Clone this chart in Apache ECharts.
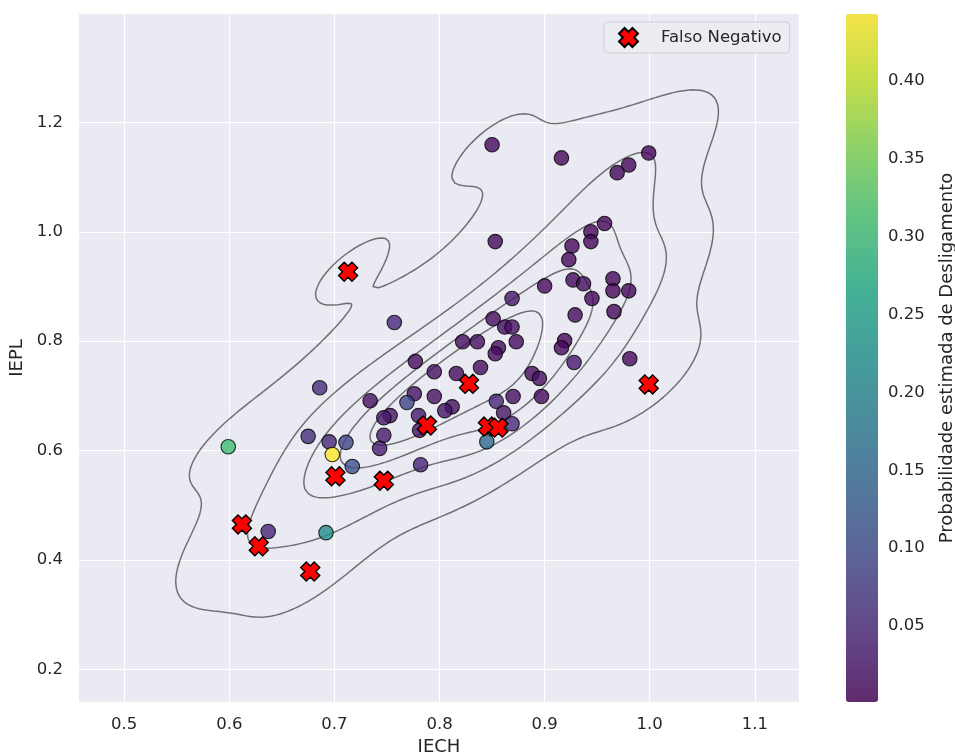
<!DOCTYPE html>
<html><head><meta charset="utf-8">
<script src="https://cdn.jsdelivr.net/npm/echarts@6/dist/echarts.min.js"></script>
<style>html,body{margin:0;padding:0;background:#fff}#c{width:955px;height:756px}</style>
</head><body><div id="c"></div>
<script>
// ---- data ----
const iech = [0.850,0.916,0.999,0.980,0.969,0.853,0.957,0.944,0.944,0.926,0.923,0.927,0.937,0.965,0.965,0.980,0.900,0.945,0.869,0.966,0.929,0.851,0.862,0.869,0.822,0.836,0.856,0.853,0.873,0.919,0.916,0.928,0.981,0.839,0.816,0.888,0.895,0.897,0.870,0.854,0.861,0.869,0.845,0.812,0.805,0.795,0.776,0.769,0.780,0.781,0.734,0.753,0.747,0.747,0.743,0.782,0.686,0.757,0.675,0.695,0.711,0.698,0.717,0.599,0.637,0.692,0.795,0.777];
const iepl = [1.159,1.135,1.144,1.122,1.108,0.982,1.015,1.000,0.982,0.974,0.949,0.912,0.905,0.914,0.892,0.892,0.901,0.878,0.878,0.854,0.848,0.841,0.826,0.826,0.799,0.799,0.788,0.777,0.799,0.801,0.788,0.761,0.768,0.752,0.741,0.741,0.732,0.699,0.699,0.690,0.669,0.649,0.616,0.680,0.673,0.699,0.704,0.688,0.664,0.637,0.691,0.664,0.660,0.628,0.604,0.574,0.715,0.834,0.626,0.616,0.615,0.593,0.571,0.607,0.452,0.450,0.744,0.763];
const prob = [0.010,0.008,0.005,0.006,0.006,0.012,0.007,0.007,0.008,0.008,0.010,0.010,0.015,0.008,0.008,0.006,0.010,0.010,0.030,0.010,0.012,0.015,0.015,0.020,0.015,0.015,0.015,0.015,0.012,0.010,0.010,0.030,0.010,0.015,0.015,0.012,0.015,0.012,0.015,0.045,0.025,0.055,0.155,0.020,0.025,0.020,0.020,0.090,0.030,0.020,0.020,0.025,0.030,0.030,0.035,0.045,0.055,0.050,0.060,0.050,0.090,0.443,0.105,0.305,0.045,0.220,0.020,0.015];
const fnIech = [0.713,0.828,0.999,0.788,0.846,0.856,0.701,0.747,0.612,0.628,0.677];
const fnIepl = [0.927,0.722,0.721,0.646,0.644,0.642,0.553,0.545,0.465,0.425,0.379];
const xTicks = [0.5,0.6,0.7,0.8,0.9,1.0,1.1];
const yTicks = [0.2,0.4,0.6,0.8,1.0,1.2];
const cbTicks = [0.05,0.10,0.15,0.20,0.25,0.30,0.35,0.40];
const kdeIsoProps = [0.05,0.24,0.43,0.62,0.81];

// ---- KDE (scipy gaussian_kde, Scott) + seaborn iso-proportion levels ----
function kdeContours(xs, ys, props) {
  const n = xs.length;
  let mx = 0, my = 0;
  for (let k = 0; k < n; k++) { mx += xs[k]; my += ys[k]; }
  mx /= n; my /= n;
  let sxx = 0, syy = 0, sxy = 0;
  for (let k = 0; k < n; k++) { const dx = xs[k]-mx, dy = ys[k]-my; sxx += dx*dx; syy += dy*dy; sxy += dx*dy; }
  sxx /= (n-1); syy /= (n-1); sxy /= (n-1);
  const f2 = Math.pow(n, -1/3);
  const cxx = sxx*f2, cyy = syy*f2, cxy = sxy*f2;
  const det = cxx*cyy - cxy*cxy;
  const ixx = cyy/det, iyy = cxx/det, ixy = -cxy/det;
  const bwx = Math.sqrt(cxx), bwy = Math.sqrt(cyy);
  const G = 200, cut = 3;
  const x0 = Math.min(...xs) - cut*bwx, x1 = Math.max(...xs) + cut*bwx;
  const y0 = Math.min(...ys) - cut*bwy, y1 = Math.max(...ys) + cut*bwy;
  const gx = [], gy = [];
  for (let i = 0; i < G; i++) { gx.push(x0 + (x1-x0)*i/(G-1)); gy.push(y0 + (y1-y0)*i/(G-1)); }
  const Z = [];
  const all = [];
  for (let j = 0; j < G; j++) {
    const row = new Float64Array(G);
    for (let i = 0; i < G; i++) {
      let s = 0;
      for (let k = 0; k < n; k++) {
        const dx = gx[i]-xs[k], dy = gy[j]-ys[k];
        s += Math.exp(-0.5*(ixx*dx*dx + 2*ixy*dx*dy + iyy*dy*dy));
      }
      row[i] = s; all.push(s);
    }
    Z.push(row);
  }
  const sorted = all.slice().sort((a,b)=>b-a);
  const total = sorted.reduce((a,b)=>a+b,0);
  const cum = []; let c = 0;
  for (const v of sorted) { c += v; cum.push(c/total); }
  const levels = props.map(p => {
    const target = 1 - p;
    let lo = 0, hi = cum.length;
    while (lo < hi) { const m = (lo+hi)>>1; if (cum[m] < target) lo = m+1; else hi = m; }
    return sorted[Math.min(lo, sorted.length-1)];
  });
  const lines = [];
  for (const L of levels) {
    const pts = new Map(); const adj = new Map();
    const hKey = (i,j) => j*G + i, vKey = (i,j) => G*G + j*G + i;
    function pt(key) {
      if (pts.has(key)) return;
      if (key < G*G) { const j = Math.floor(key/G), i = key%G; const a = Z[j][i], b = Z[j][i+1]; const t = (L-a)/(b-a); pts.set(key, [gx[i] + t*(gx[i+1]-gx[i]), gy[j]]); }
      else { const kk = key - G*G; const j = Math.floor(kk/G), i = kk%G; const a = Z[j][i], b = Z[j+1][i]; const t = (L-a)/(b-a); pts.set(key, [gx[i], gy[j] + t*(gy[j+1]-gy[j])]); }
    }
    function seg(a, b) {
      pt(a); pt(b);
      if (!adj.has(a)) adj.set(a, []); if (!adj.has(b)) adj.set(b, []);
      adj.get(a).push(b); adj.get(b).push(a);
    }
    for (let j = 0; j < G-1; j++) for (let i = 0; i < G-1; i++) {
      const v0 = Z[j][i], v1 = Z[j][i+1], v2 = Z[j+1][i+1], v3 = Z[j+1][i];
      const cs = (v0>L?1:0)|(v1>L?2:0)|(v2>L?4:0)|(v3>L?8:0);
      if (cs === 0 || cs === 15) continue;
      const e0 = hKey(i,j), e1 = vKey(i+1,j), e2 = hKey(i,j+1), e3 = vKey(i,j);
      const ctr = (v0+v1+v2+v3)/4 > L;
      switch (cs) {
        case 1: case 14: seg(e3,e0); break;
        case 2: case 13: seg(e0,e1); break;
        case 3: case 12: seg(e3,e1); break;
        case 4: case 11: seg(e1,e2); break;
        case 6: case 9: seg(e0,e2); break;
        case 7: case 8: seg(e3,e2); break;
        case 5: if (ctr) { seg(e0,e1); seg(e2,e3); } else { seg(e3,e0); seg(e1,e2); } break;
        case 10: if (ctr) { seg(e3,e0); seg(e1,e2); } else { seg(e0,e1); seg(e2,e3); } break;
      }
    }
    const used = new Set();
    const walk = (start) => {
      const path = [start]; used.add(start);
      let cur = start;
      while (true) {
        const nx = (adj.get(cur) || []).find(k => !used.has(k));
        if (nx === undefined) break;
        used.add(nx); path.push(nx); cur = nx;
      }
      if (adj.get(cur).includes(start) && path.length > 2) path.push(start);
      return path.map(k => pts.get(k));
    };
    for (const [k, nb] of adj) if (nb.length === 1 && !used.has(k)) lines.push(walk(k));
    for (const k of adj.keys()) if (!used.has(k)) lines.push(walk(k));
  }
  return lines;
}

const kdeX = iech.concat(fnIech), kdeY = iepl.concat(fnIepl);
const contourLines = kdeContours(kdeX, kdeY, kdeIsoProps);

const viridis = ['#440154','#482475','#414487','#355f8d','#2a788e','#21918c','#22a884','#44bf70','#7ad151','#bddf26','#fde725'];
const withAlpha = (h, a) => 'rgba(' + parseInt(h.slice(1,3),16) + ',' + parseInt(h.slice(3,5),16) + ',' + parseInt(h.slice(5,7),16) + ',' + a + ')';

const font = 'DejaVu Sans';
const txt = '#262626';
const xtickPath = 'path://M59,0L100,41L141,0L200,59L159,100L200,141L141,200L100,159L59,200L0,141L41,100L0,59Z';

const series = [
  {
    type: 'scatter', name: 'pts', xAxisIndex: 0, yAxisIndex: 0, z: 3,
    data: iech.map((x, i) => [x, iepl[i], prob[i]]),
    symbolSize: 14.5,
    itemStyle: { borderColor: 'rgba(0,0,0,0.8)', borderWidth: 1.1, opacity: 1 },
    emphasis: { disabled: true }, silent: true, animation: false
  },
  {
    type: 'scatter', name: 'Falso Negativo', xAxisIndex: 0, yAxisIndex: 0, z: 4,
    data: fnIech.map((x, i) => [x, fnIepl[i]]),
    symbol: xtickPath, symbolSize: 19,
    itemStyle: { color: '#ff0000', borderColor: '#000', borderWidth: 1.4, opacity: 1 },
    emphasis: { disabled: true }, silent: true, animation: false
  }
];
contourLines.forEach(l => series.push({
  type: 'line', xAxisIndex: 0, yAxisIndex: 0, z: 2, data: l, showSymbol: false, symbol: 'none',
  lineStyle: { color: 'rgba(0,0,0,0.52)', width: 1.5 }, silent: true, animation: false
}));

const chart = echarts.init(document.getElementById('c'), null, { renderer: 'canvas' });
chart.setOption({
  animation: false,
  textStyle: { fontFamily: font },
  grid: [
    { left: 79, top: 14, width: 720, height: 688, show: true, backgroundColor: '#eaeaf2', borderWidth: 0, containLabel: false, outerBoundsMode: 'none' },
    { left: 846, top: 14, width: 32, height: 688, show: false, containLabel: false, outerBoundsMode: 'none' }
  ],
  xAxis: [
    { type: 'value', gridIndex: 0, min: 0.457, max: 1.142,
      name: 'IECH', nameLocation: 'middle', nameGap: 34, nameTextStyle: { color: txt, fontSize: 18, fontFamily: font },
      axisLine: { show: false }, axisTick: { show: false, customValues: xTicks },
      axisLabel: { customValues: xTicks, formatter: v => v.toFixed(1), color: txt, fontSize: 16.5, fontFamily: font, margin: 14 },
      splitLine: { show: true, lineStyle: { color: '#ffffff', width: 1 } } },
    { type: 'value', gridIndex: 1, min: 0, max: 1, show: false }
  ],
  yAxis: [
    { type: 'value', gridIndex: 0, min: 0.1405, max: 1.398,
      name: 'IEPL', nameLocation: 'middle', nameGap: 45, nameTextStyle: { color: txt, fontSize: 18, fontFamily: font },
      axisLine: { show: false }, axisTick: { show: false, customValues: yTicks },
      axisLabel: { customValues: yTicks, formatter: v => v.toFixed(1), color: txt, fontSize: 16.5, fontFamily: font, margin: 16 },
      splitLine: { show: true, lineStyle: { color: '#ffffff', width: 1 } } },
    { type: 'value', gridIndex: 1, position: 'right', min: 0.0012, max: 0.443,
      name: 'Probabilidade estimada de Desligamento', nameLocation: 'middle', nameGap: 60, nameRotate: 90,
      nameTextStyle: { color: txt, fontSize: 18, fontFamily: font },
      axisLine: { show: false },
      axisTick: { show: true, length: 5, customValues: cbTicks, lineStyle: { color: txt, width: 1.2 } },
      axisLabel: { customValues: cbTicks, formatter: v => v.toFixed(2), color: txt, fontSize: 16.5, fontFamily: font, margin: 10 },
      splitLine: { show: false } }
  ],
  visualMap: {
    type: 'continuous', seriesIndex: 0, dimension: 2, min: 0.0012, max: 0.443,
    left: 846, top: 14, itemWidth: 32, itemHeight: 688, padding: 0,
    calculable: false, realtime: false, text: null, showLabel: false, hoverLink: false,
    inRange: { color: viridis.map(c => withAlpha(c, 0.8)) }
  },
  legend: {
    data: ['Falso Negativo'], left: 604, top: 22,
    padding: [5, 8, 5, 14], itemWidth: 19, itemHeight: 19,
    backgroundColor: '#ececf3', borderColor: '#cfcfd3', borderWidth: 1, borderRadius: 4,
    textStyle: { color: txt, fontSize: 16.5, fontFamily: font, padding: [0, 0, 0, 18] },
    selectedMode: false
  },
  series: series
});
</script></body></html>
